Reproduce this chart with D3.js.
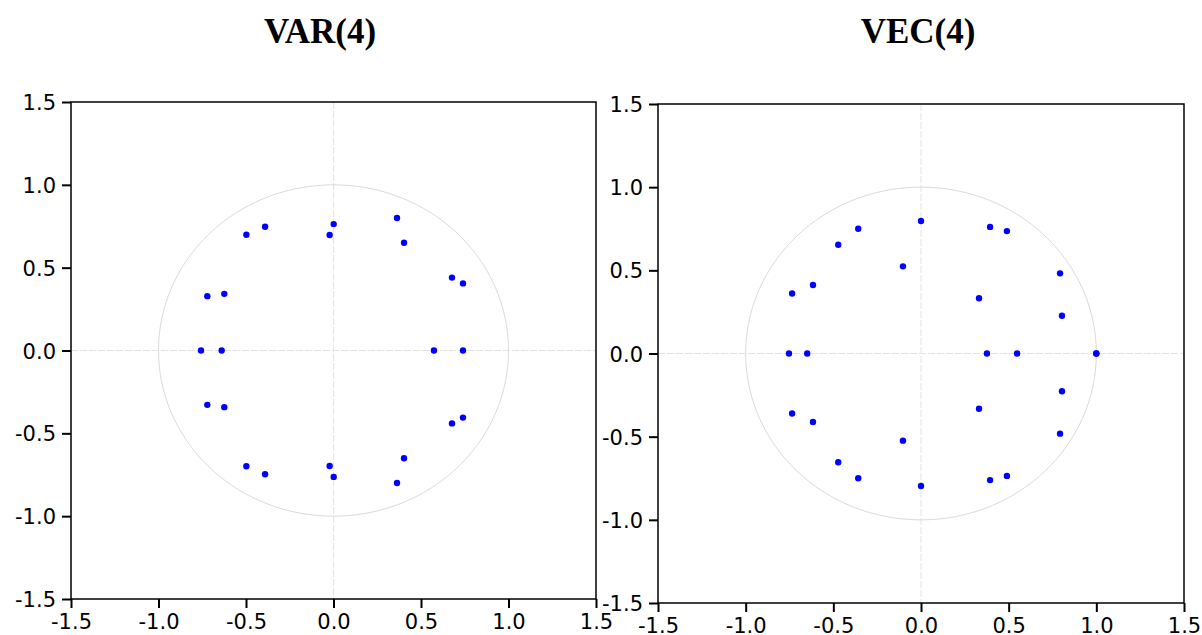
<!DOCTYPE html>
<html>
<head>
<meta charset="utf-8">
<script src="https://cdn.jsdelivr.net/npm/d3@7"></script>
<style>
  body { margin: 0; background: #fff; }
  .title { font-family: "Liberation Serif", "Times New Roman", serif; font-weight: bold; }
</style>
</head>
<body>
<div id="chart"></div>
<script>
// inverse roots of the characteristic polynomial, real / imaginary parts
const varRe = [-0.498, -0.391, -0.022, 0.001, 0.363, 0.403, 0.677, 0.740, 0.574, 0.740,
               0.740, 0.677, 0.403, 0.363, 0.001, -0.022, -0.391, -0.498,
               -0.624, -0.721, -0.757, -0.639, -0.624, -0.721]
const varIm = [0.699, 0.747, 0.697, 0.763, 0.800, 0.650, 0.440, 0.405, 0.000, 0.000,
               -0.405, -0.440, -0.650, -0.800, -0.763, -0.697, -0.747, -0.699,
               -0.342, -0.328, 0.000, 0.000, 0.342, 0.328]

const vecRe = [-0.358, -0.472, -0.616, -0.735, 0.000, -0.103, 0.331, 0.394, 0.490, 0.793, 0.804,
               -0.358, -0.472, -0.616, -0.735, 0.000, -0.103, 0.331, 0.394, 0.490, 0.793, 0.804,
               -0.753, -0.649, 0.376, 0.548, 1.000, 1.000]
const vecIm = [0.750, 0.654, 0.412, 0.361, 0.797, 0.524, 0.332, 0.761, 0.736, 0.482, 0.227,
               -0.750, -0.654, -0.412, -0.361, -0.797, -0.524, -0.332, -0.761, -0.736, -0.482, -0.227,
               0.000, 0.000, 0.000, 0.000, 0.000, 0.000]

const titles = ['VAR(4)', 'VEC(4)']
const tickValues = [-1.5, -1.0, -0.5, 0.0, 0.5, 1.0, 1.5]
const tickLabels = ['-1.5', '-1.0', '-0.5', '0.0', '0.5', '1.0', '1.5']

const svg = d3.select('#chart').append('svg')
    .attr('width', 1202)
    .attr('height', 635)

function drawPanel(cfg) {
    let g = svg.append('g')

    let x = d3.scaleLinear().domain([-1.5, 1.5]).range([cfg.left, cfg.right])
    let y = d3.scaleLinear().domain([-1.5, 1.5]).range([cfg.bottom, cfg.top])

    // zero lines
    g.append('line')
        .attr('x1', x(0)).attr('x2', x(0))
        .attr('y1', cfg.top).attr('y2', cfg.bottom)
        .attr('stroke', '#e3e3e3').attr('stroke-dasharray', '7,2')
    g.append('line')
        .attr('x1', cfg.left).attr('x2', cfg.right)
        .attr('y1', y(0)).attr('y2', y(0))
        .attr('stroke', '#e3e3e3').attr('stroke-dasharray', '7,2')

    // unit circle
    let circ = d3.range(0, 361).map(a => [Math.cos(a * Math.PI / 180), Math.sin(a * Math.PI / 180)])
    g.append('path')
        .attr('d', d3.line().x(d => x(d[0])).y(d => y(d[1]))(circ))
        .attr('fill', 'none')
        .attr('stroke', '#dadada')
        .attr('stroke-width', 1)

    // axes
    let fmt = (d, i) => tickLabels[i]
    let xAxis = d3.axisBottom(x).tickValues(tickValues).tickFormat(fmt).tickSize(9).tickPadding(6)
    let yAxis = d3.axisLeft(y).tickValues(tickValues).tickFormat(fmt).tickSize(9).tickPadding(6)

    let gx = g.append('g').attr('transform', 'translate(0,' + cfg.bottom + ')').call(xAxis)
    let gy = g.append('g').attr('transform', 'translate(' + cfg.left + ',0)').call(yAxis)
    ;[gx, gy].forEach(a => {
        a.select('.domain').remove()
        a.selectAll('.tick line').attr('stroke', '#000').attr('stroke-width', 2)
        a.selectAll('.tick text').attr('font-size', 21).attr('fill', '#000')
            .attr('font-family', '"DejaVu Sans", sans-serif')
    })
    gy.selectAll('.tick text').attr('dy', '0.36em')

    // frame
    g.append('rect')
        .attr('x', cfg.left).attr('y', cfg.top)
        .attr('width', cfg.right - cfg.left).attr('height', cfg.bottom - cfg.top)
        .attr('fill', 'none').attr('stroke', '#000').attr('stroke-width', 1.5)

    // roots
    g.selectAll('circle.root')
        .data(d3.zip(cfg.re, cfg.im))
        .join('circle')
            .attr('class', 'root')
            .attr('cx', d => x(d[0]))
            .attr('cy', d => y(d[1]))
            .attr('r', 3.2)
            .attr('fill', '#0000ff')

    svg.append('text')
        .attr('class', 'title')
        .attr('x', cfg.titleX)
        .attr('y', 43)
        .attr('text-anchor', 'middle')
        .attr('font-size', 35)
        .text(cfg.title)
}

drawPanel({left: 71, right: 596, top: 102, bottom: 599, re: varRe, im: varIm, title: titles[0], titleX: 320})
drawPanel({left: 658, right: 1184, top: 104, bottom: 603, re: vecRe, im: vecIm, title: titles[1], titleX: 918})
</script>
</body>
</html>
